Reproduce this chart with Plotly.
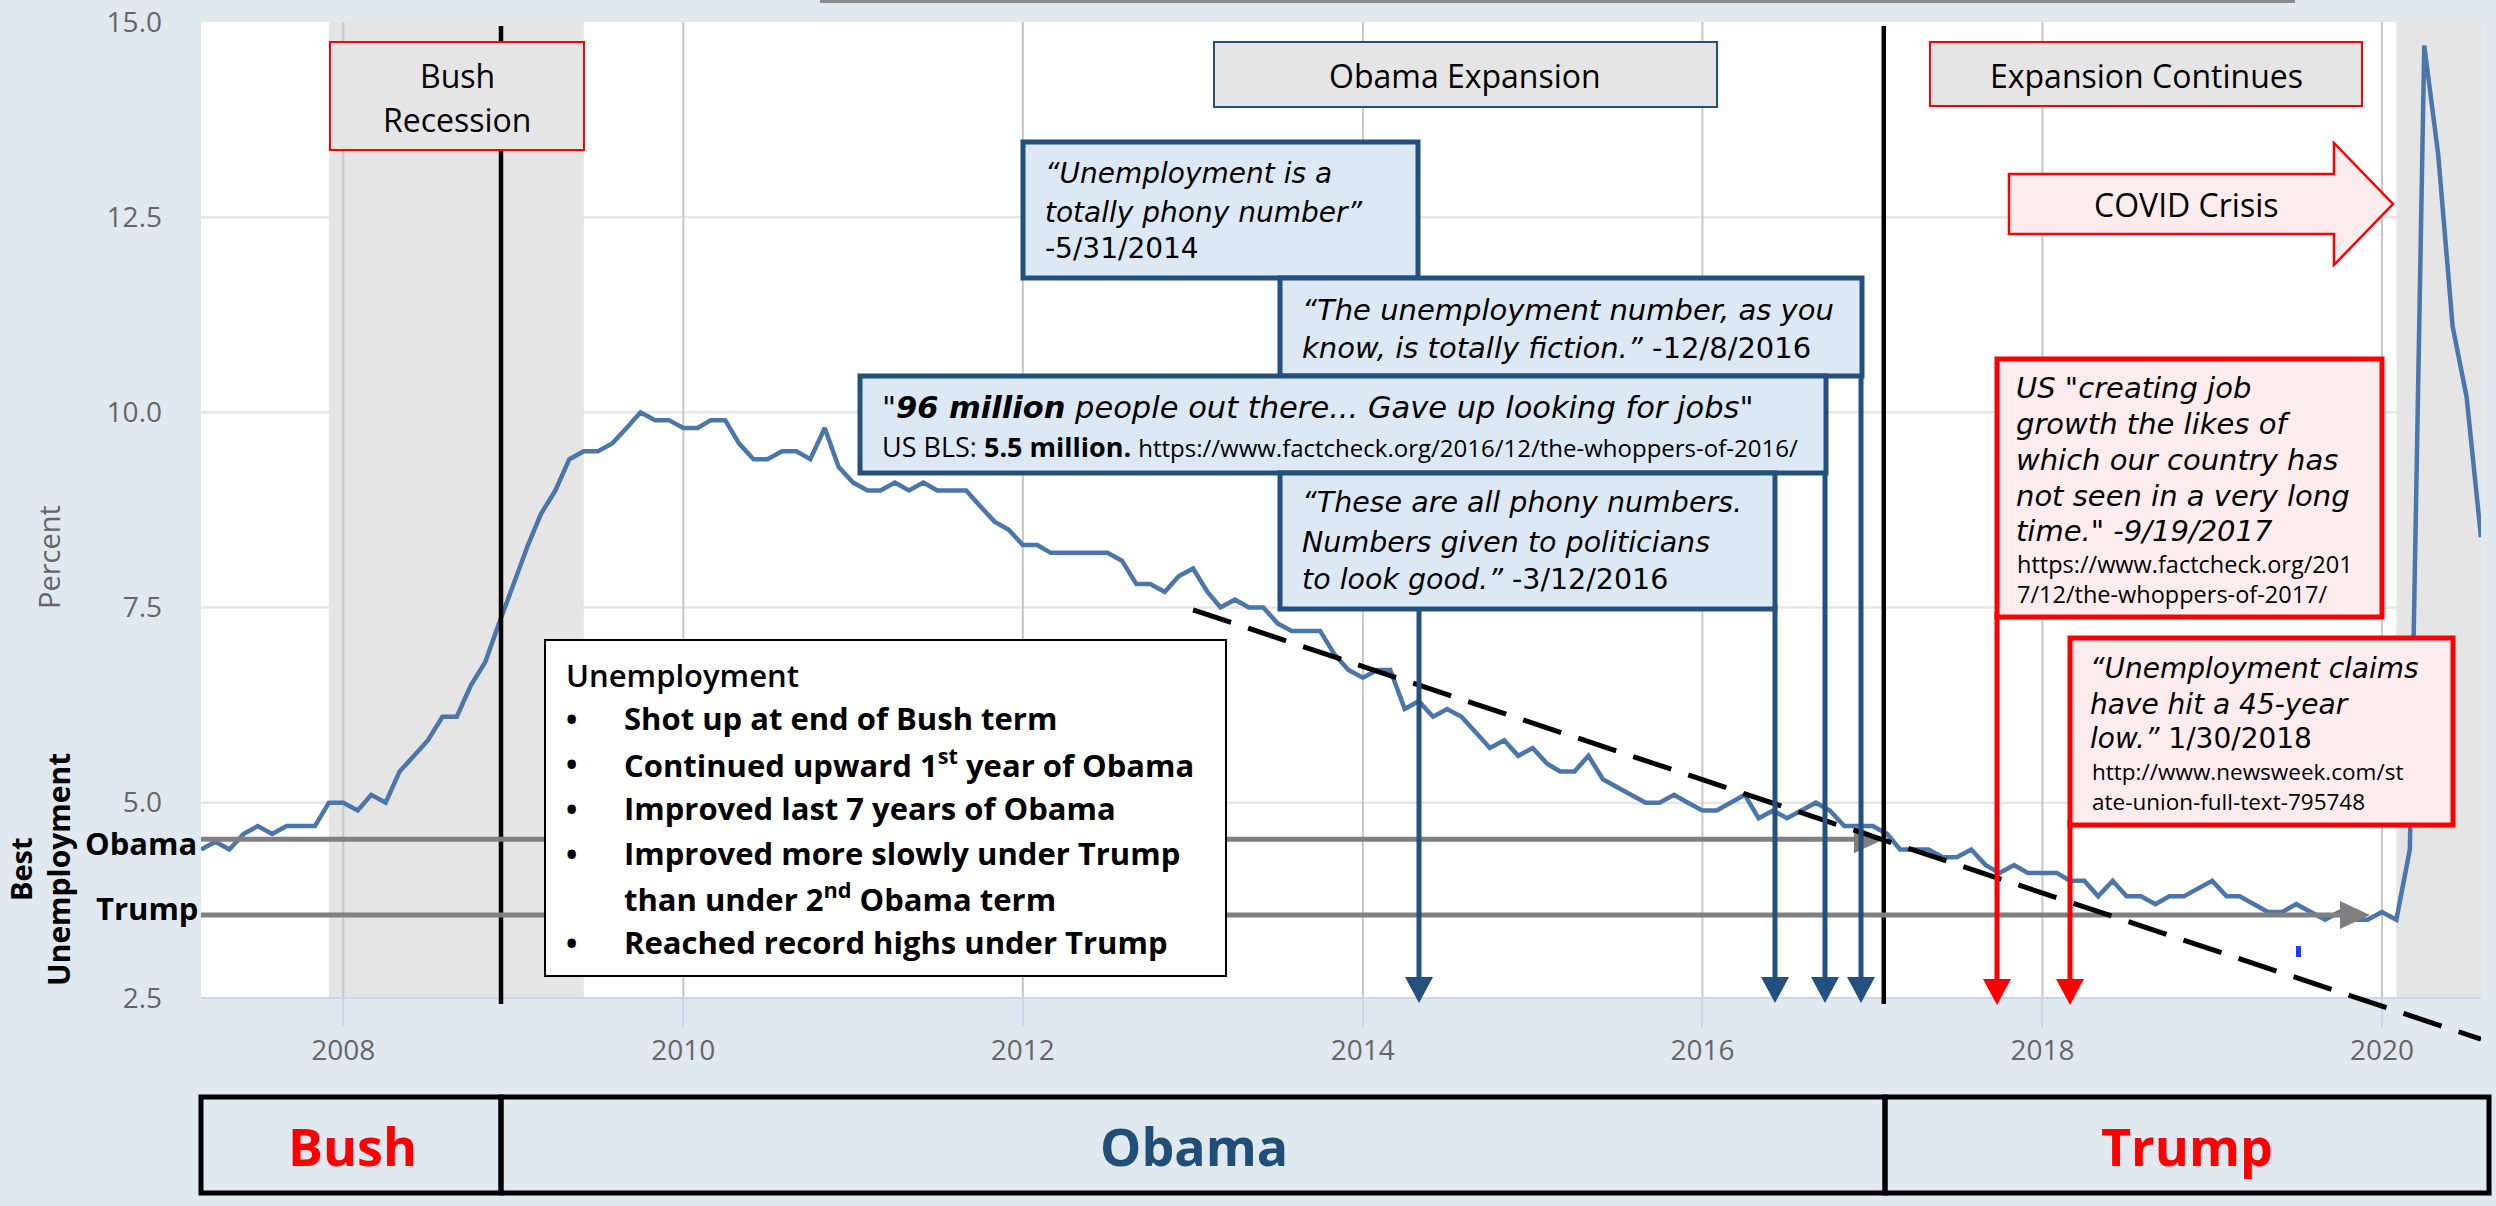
import pandas as pd
import plotly.graph_objects as go

# ---------------- data (monthly civilian unemployment rate, %) ----------------
ur_2007 = [4.4, 4.5, 4.4, 4.6, 4.7, 4.6, 4.7, 4.7, 4.7, 5.0]          # Mar-Dec
ur_2008 = [5.0, 4.9, 5.1, 5.0, 5.4, 5.6, 5.8, 6.1, 6.1, 6.5, 6.8, 7.3]
ur_2009 = [7.8, 8.3, 8.7, 9.0, 9.4, 9.5, 9.5, 9.6, 9.8, 10.0, 9.9, 9.9]
ur_2010 = [9.8, 9.8, 9.9, 9.9, 9.6, 9.4, 9.4, 9.5, 9.5, 9.4, 9.8, 9.3]
ur_2011 = [9.1, 9.0, 9.0, 9.1, 9.0, 9.1, 9.0, 9.0, 9.0, 8.8, 8.6, 8.5]
ur_2012 = [8.3, 8.3, 8.2, 8.2, 8.2, 8.2, 8.2, 8.1, 7.8, 7.8, 7.7, 7.9]
ur_2013 = [8.0, 7.7, 7.5, 7.6, 7.5, 7.5, 7.3, 7.2, 7.2, 7.2, 6.9, 6.7]
ur_2014 = [6.6, 6.7, 6.7, 6.2, 6.3, 6.1, 6.2, 6.1, 5.9, 5.7, 5.8, 5.6]
ur_2015 = [5.7, 5.5, 5.4, 5.4, 5.6, 5.3, 5.2, 5.1, 5.0, 5.0, 5.1, 5.0]
ur_2016 = [4.9, 4.9, 5.0, 5.1, 4.8, 4.9, 4.8, 4.9, 5.0, 4.9, 4.7, 4.7]
ur_2017 = [4.7, 4.6, 4.4, 4.4, 4.4, 4.3, 4.3, 4.4, 4.2, 4.1, 4.2, 4.1]
ur_2018 = [4.1, 4.1, 4.0, 4.0, 3.8, 4.0, 3.8, 3.8, 3.7, 3.8, 3.8, 3.9]
ur_2019 = [4.0, 3.8, 3.8, 3.7, 3.6, 3.6, 3.7, 3.6, 3.5, 3.6, 3.5, 3.5]
ur_2020 = [3.6, 3.5, 4.4, 14.7, 13.3, 11.1, 10.2, 8.4]               # Jan-Aug
series_start = "2007-03-01"

x_tick_years = [2008, 2010, 2012, 2014, 2016, 2018, 2020]
y_tick_vals = [0.0, 2.5, 5.0, 7.5, 10.0, 12.5, 15.0]
y_grid_vals = [5.0, 7.5, 10.0, 12.5]

recessions = [("2007-12-01", "2009-06-01"), ("2020-02-01", "2020-08-01")]
term_changes = ["2008-12-05", "2017-01-25"]
best_rates = {"Obama": 4.53, "Trump": 3.56}
trend_points = [("2013-01-01", 7.47), ("2020-08-01", 1.97)]

unrate = (ur_2007 + ur_2008 + ur_2009 + ur_2010 + ur_2011 + ur_2012 + ur_2013 +
          ur_2014 + ur_2015 + ur_2016 + ur_2017 + ur_2018 + ur_2019 + ur_2020)
months = pd.date_range(series_start, periods=len(unrate), freq="MS")

# ---------------- geometry helpers ----------------
W, H = 2496, 1206
ML, MR, MT, MB = 201, 15, 22, 13
PW = W - ML - MR
PH = H - MT - MB


def xp(px):
    return (px - ML) / PW


def yp(py):
    return (H - MB - py) / PH


BG = "#e1e9f0"
SANS = "Open Sans, Noto Sans, sans-serif"
QUOTE = "DejaVu Sans, Verdana, sans-serif"
BLUE = "#24507d"
RED = "#ff0000"
LBLUE = "#dde8f5"
PINK = "#fdeced"

fig = go.Figure()
fig.add_trace(go.Scatter(x=months, y=unrate, mode="lines",
                         line=dict(color="#4a76ab", width=4.5),
                         hoverinfo="skip", showlegend=False))

shapes = []
ann = []

# white plotting area (2.5 .. 15)
shapes.append(dict(type="rect", xref="paper", yref="y", x0=0, x1=1, y0=2.5, y1=15,
                   fillcolor="white", line=dict(width=0), layer="below"))
for v in y_grid_vals:
    shapes.append(dict(type="line", xref="paper", yref="y", x0=0, x1=1, y0=v, y1=v,
                       line=dict(color="#e6e6e6", width=2.5), layer="below"))
for a, b in recessions:
    shapes.append(dict(type="rect", xref="x", yref="y", x0=a, x1=b, y0=2.5, y1=15,
                       fillcolor="#e5e5e5", line=dict(width=0), layer="below"))
for yr in x_tick_years:
    d = f"{yr}-01-01"
    shapes.append(dict(type="line", xref="x", yref="y", x0=d, x1=d, y0=2.5, y1=15,
                       line=dict(color="#c6c6c6", width=2), layer="below"))

# black term-change lines
for d in term_changes:
    shapes.append(dict(type="line", xref="x", yref="y", x0=d, x1=d, y0=2.42, y1=14.95,
                       line=dict(color="black", width=4.5), layer="above"))


def path_px(points):
    return "M " + " L ".join(f"{xp(x):.5f},{yp(y):.5f}" for x, y in points) + " Z"


# gray "best unemployment" arrows
for name, tip in (("Obama", 1884), ("Trump", 2370)):
    v = best_rates[name]
    py = H - MB - v / 15 * PH
    shapes.append(dict(type="line", xref="paper", yref="y", x0=0, x1=xp(tip - 26), y0=v, y1=v,
                       line=dict(color="#808080", width=5), layer="above"))
    shapes.append(dict(type="path", xref="paper", yref="paper",
                       path=path_px([(tip - 30, py - 14), (tip, py), (tip - 30, py + 14)]),
                       fillcolor="#808080", line=dict(width=0), layer="above"))

# dashed trend line
(tx0, ty0), (tx1, ty1) = trend_points
shapes.append(dict(type="line", xref="x", yref="y", x0=tx0, y0=ty0, x1=tx1, y1=ty1,
                   line=dict(color="black", width=5, dash="40px,18px"), layer="above"))


def rect_px(x0, y0, x1, y1, fill, lc, lw):
    shapes.append(dict(type="rect", xref="paper", yref="paper",
                       x0=xp(x0), x1=xp(x1), y0=yp(y1), y1=yp(y0),
                       fillcolor=fill, line=dict(color=lc, width=lw), layer="above"))


def txt(x, y, s, size, color="black", xanchor="left", angle=0, family=SANS, weight="normal"):
    ann.append(dict(xref="paper", yref="paper", x=xp(x), y=yp(y), text=s, showarrow=False,
                    xanchor=xanchor, yanchor="middle", textangle=angle, borderpad=0,
                    font=dict(size=size, color=color, family=family, weight=weight)))


def quote(x, y, s, size):
    txt(x, y, s, size, family=QUOTE)


def varrow(x, y_start, y_tip, color):
    shapes.append(dict(type="line", xref="paper", yref="paper", x0=xp(x), x1=xp(x),
                       y0=yp(y_start), y1=yp(y_tip - 22), line=dict(color=color, width=5),
                       layer="above"))
    shapes.append(dict(type="path", xref="paper", yref="paper",
                       path=path_px([(x - 14, y_tip - 26), (x + 14, y_tip - 26), (x, y_tip)]),
                       fillcolor=color, line=dict(width=0), layer="above"))


# top label boxes
rect_px(330, 42, 584, 150, "#e5e5e5", RED, 2)
txt(457, 75, "Bush", 32, xanchor="center")
txt(457, 119, "Recession", 32, xanchor="center")
rect_px(1214, 42, 1717, 107, "#e5e5e5", BLUE, 2)
txt(1465, 75, "Obama Expansion", 32, xanchor="center")
rect_px(1930, 42, 2362, 106, "#e5e5e5", RED, 2)
txt(2146, 75, "Expansion Continues", 32, xanchor="center")

# COVID arrow
shapes.append(dict(type="path", xref="paper", yref="paper",
                   path=path_px([(2009, 174), (2334, 174), (2334, 143), (2393, 204),
                                 (2334, 265), (2334, 234), (2009, 234)]),
                   fillcolor=PINK, line=dict(color=RED, width=2.5), layer="above"))
txt(2186, 205, "COVID Crisis", 32, xanchor="center")

# blue/red arrows (drawn before boxes)
varrow(1419, 605, 1003, BLUE)
varrow(1775, 605, 1003, BLUE)
varrow(1825, 470, 1003, BLUE)
varrow(1861, 372, 1003, BLUE)
varrow(1997, 612, 1005, RED)
varrow(2070, 820, 1005, RED)

# quote boxes
rect_px(1023, 142, 1418, 278, LBLUE, BLUE, 5)
quote(1044, 174, "<i>“Unemployment is a</i>", 28)
quote(1044, 212, "<i>totally phony number”</i>", 28)
quote(1044, 249, "-5/31/2014", 28)

rect_px(1280, 278, 1862, 376, LBLUE, BLUE, 5)
quote(1301, 310, "<i>“The unemployment number, as you</i>", 29)
quote(1301, 348, "<i>know, is totally fiction.”</i> -12/8/2016", 29)

rect_px(860, 376, 1826, 473, LBLUE, BLUE, 5)
quote(881, 407, "<i>\"<b>96 million</b> people out there... Gave up looking for jobs\"</i>", 30.5)
txt(881, 446, "US BLS: <b>5.5 million.</b> "
              "<span style=\"font-size:24px\">https://www.factcheck.org/2016/12/the-whoppers-of-2016/</span>", 27)

rect_px(1280, 473, 1775, 609, LBLUE, BLUE, 5)
quote(1301, 503, "<i>“These are all phony numbers.</i>", 28.5)
quote(1301, 542, "<i>Numbers given to politicians</i>", 28.5)
quote(1301, 579, "<i>to look good.”</i> -3/12/2016", 28.5)

rect_px(1997, 359, 2382, 617, PINK, RED, 5)
quote(2015, 388, "<i>US \"creating job</i>", 29)
quote(2015, 424, "<i>growth the likes of</i>", 29)
quote(2015, 460, "<i>which our country has</i>", 29)
quote(2015, 496, "<i>not seen in a very long</i>", 29)
quote(2015, 531, "<i>time.\" -9/19/2017</i>", 29)
txt(2016, 564, "https://www.factcheck.org/201", 23.5)
txt(2016, 594, "7/12/the-whoppers-of-2017/", 23.5)

rect_px(2070, 638, 2453, 825, PINK, RED, 5)
quote(2089, 668, "<i>“Unemployment claims</i>", 28)
quote(2089, 704, "<i>have hit a 45-year</i>", 28)
quote(2089, 738, "<i>low.”</i> 1/30/2018", 28)
txt(2091, 772, "http://www.newsweek.com/st", 22.5)
txt(2091, 801, "ate-union-full-text-795748", 22.5)

# summary box
rect_px(545, 640, 1226, 976, "white", "black", 2)
txt(565, 675, "Unemployment", 31, weight=600)
bullet_rows = [
    (718, "Shot up at end of Bush term", True),
    (763, "Continued upward 1<sup>st</sup> year of Obama", True),
    (808, "Improved last 7 years of Obama", True),
    (853, "Improved more slowly under Trump", True),
    (897, "than under 2<sup>nd</sup> Obama term", False),
    (942, "Reached record highs under Trump", True),
]
for y, s, has_bullet in bullet_rows:
    if has_bullet:
        txt(565, y, "<b>•</b>", 30)
    txt(623, y, f"<b>{s}</b>", 31)

# president term boxes
rect_px(201, 1097, 501, 1193, "rgba(0,0,0,0)", "black", 5)
rect_px(501, 1097, 1885, 1193, "rgba(0,0,0,0)", "black", 5)
rect_px(1885, 1097, 2489, 1193, "rgba(0,0,0,0)", "black", 5)
txt(352, 1145, "<b>Bush</b>", 52, color=RED, xanchor="center")
txt(1194, 1145, "<b>Obama</b>", 52, color="#1f4e79", xanchor="center")
txt(2187, 1145, "<b>Trump</b>", 52, color=RED, xanchor="center")

# thin line at the very top, small blue artefact
shapes.append(dict(type="line", xref="paper", yref="paper", x0=xp(820), x1=xp(2295),
                   y0=yp(1.5), y1=yp(1.5), line=dict(color="#8a8a8a", width=3), layer="above"))
rect_px(2296, 946, 2301, 957, "#1a3cff", "#1a3cff", 0)

# left-side labels
txt(48, 557, "Percent", 29, color="#666666", xanchor="center", angle=-90)
txt(20, 869, "<b>Best</b>", 29, xanchor="center", angle=-90)
txt(58, 870, "<b>Unemployment</b>", 30, xanchor="center", angle=-90)
txt(198, 843, "<b>Obama</b>", 31, xanchor="right")
txt(199, 908, "<b>Trump</b>", 31, xanchor="right")

fig.update_layout(
    width=W, height=H, autosize=False,
    margin=dict(l=ML, r=MR, t=MT, b=MB, pad=0),
    paper_bgcolor=BG, plot_bgcolor=BG,
    showlegend=False,
    shapes=shapes, annotations=ann,
    font=dict(family=SANS),
    xaxis=dict(type="date", range=[series_start, "2020-08-01"],
               tickvals=[f"{y}-01-01" for y in x_tick_years],
               ticktext=[str(y) for y in x_tick_years],
               ticks="outside", ticklen=28, tickwidth=2, tickcolor="#ccd6eb",
               showline=True, linecolor="#ccd6eb", linewidth=2,
               showgrid=False, zeroline=False, automargin=False,
               anchor="free", position=2.5 / 15,
               tickfont=dict(size=28, color="#666666", family=SANS)),
    yaxis=dict(range=[0, 15], tickvals=y_tick_vals,
               ticktext=[f"{v:.1f}" for v in y_tick_vals],
               showgrid=False, zeroline=False, showline=False, ticks="",
               ticklabelstandoff=38, automargin=False,
               tickfont=dict(size=28, color="#666666", family=SANS)),
)

fig.write_html(
    "out.html",
    config={"displayModeBar": False},
    post_script="document.body.style.margin='0';"
                "document.body.style.background='" + BG + "';",
)
